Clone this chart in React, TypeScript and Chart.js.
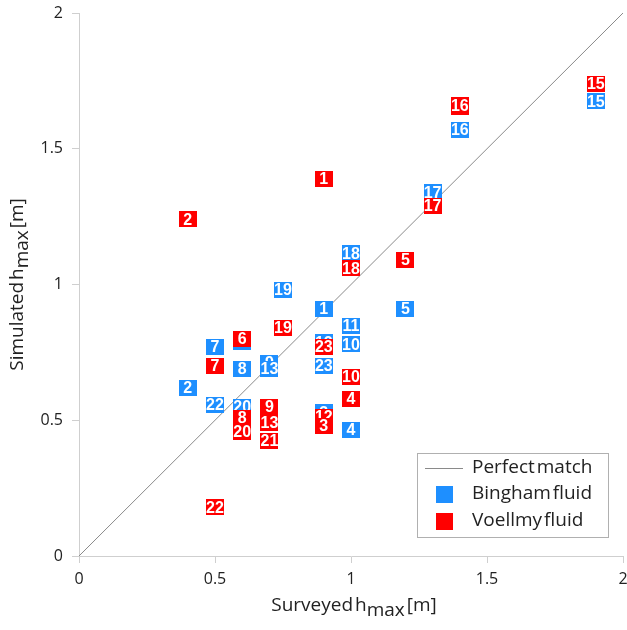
import React, { useEffect, useRef } from "react";
import { Chart, registerables } from "chart.js";

Chart.register(...registerables);

// Bingham fluid (blue) labels, surveyed and simulated hmax [m]
const binghamLabels = ["1", "2", "3", "4", "5", "6", "7", "8", "9", "10", "11", "12", "13", "15", "16", "17", "18", "19", "20", "22", "23"];
const binghamSurveyed = [0.9, 0.4, 0.9, 1.0, 1.2, 0.6, 0.5, 0.6, 0.7, 1.0, 1.0, 0.9, 0.7, 1.9, 1.4, 1.3, 1.0, 0.75, 0.6, 0.5, 0.9];
const binghamSimulated = [0.91, 0.62, 0.53, 0.465, 0.91, 0.79, 0.77, 0.69, 0.712, 0.78, 0.847, 0.787, 0.69, 1.675, 1.57, 1.34, 1.115, 0.98, 0.55, 0.556, 0.70];

// Voellmy fluid (red) labels (draw order: later ones on top)
const voellmyLabels = ["1", "2", "12", "3", "4", "5", "6", "7", "8", "9", "10", "13", "14", "15", "16", "17", "18", "19", "20", "21", "22", "23"];
const voellmySurveyed = [0.9, 0.4, 0.9, 0.9, 1.0, 1.2, 0.6, 0.5, 0.6, 0.7, 1.0, 0.7, 1.4, 1.9, 1.4, 1.3, 1.0, 0.75, 0.6, 0.7, 0.5, 0.9];
const voellmySimulated = [1.39, 1.24, 0.512, 0.48, 0.58, 1.09, 0.80, 0.70, 0.51, 0.55, 0.66, 0.49, 1.652, 1.74, 1.66, 1.29, 1.06, 0.84, 0.457, 0.425, 0.18, 0.77];

const perfectMatch = [0, 2];
const axisTicks = [0, 0.5, 1, 1.5, 2];

const BLUE = "#1e8fff";
const RED = "#ff0000";
const LINE_GRAY = "#8a8a8a";
const AXIS_GRAY = "#cfcfcf";
const FONT = "'Open Sans', 'Noto Sans', sans-serif";

const labelPlugin = {
  id: "labelBoxes",
  afterDatasetsDraw(chart: any) {
    const ctx = chart.ctx;
    const ca = chart.chartArea;
    ctx.save();
    ctx.beginPath();
    ctx.rect(ca.left, ca.top, ca.right - ca.left, ca.bottom - ca.top);
    ctx.clip();
    [1, 2].forEach((di) => {
      const meta = chart.getDatasetMeta(di);
      const ds = chart.data.datasets[di];
      meta.data.forEach((el: any, i: number) => {
        const w = 18, h = 16;
        ctx.fillStyle = ds.backgroundColor;
        ctx.fillRect(Math.round(el.x - w / 2), Math.round(el.y - h / 2), w, h);
        ctx.fillStyle = "#ffffff";
        ctx.font = "bold 16px 'Liberation Sans', Arial, sans-serif";
        ctx.textAlign = "center";
        ctx.textBaseline = "middle";
        ctx.fillText(ds.labels[i], el.x, el.y + 1, 18);
      });
    });
    ctx.restore();
  },
};

function drawSubTitle(ctx: any, parts: [string, number][], cx: number, cy: number) {
  ctx.font = `19px ${FONT}`;
  let total = 0;
  const widths = parts.map(([t]) => ctx.measureText(t).width);
  widths.forEach((w) => (total += w));
  let x = cx - total / 2;
  parts.forEach(([t, dy], i) => {
    ctx.fillText(t, x, cy + dy);
    x += widths[i];
  });
}

const titlesLegendPlugin = {
  id: "titlesLegend",
  afterDraw(chart: any) {
    const ctx = chart.ctx;
    const ca = chart.chartArea;
    ctx.save();
    ctx.fillStyle = "#222";
    ctx.textAlign = "left";
    ctx.textBaseline = "middle";
    try { (ctx as any).wordSpacing = "-3px"; } catch (e) {}
    // x title
    drawSubTitle(ctx, [["Surveyed h", 0], ["max", 5], [" [m]", 0]], (ca.left + ca.right) / 2 + 3, 606);
    // y title
    ctx.save();
    ctx.translate(18, (ca.top + ca.bottom) / 2);
    ctx.rotate(-Math.PI / 2);
    drawSubTitle(ctx, [["Simulated h", 0], ["max", 5], [" [m]", 0]], 0, 0);
    ctx.restore();

    // legend box
    const lx = 417, ly = 453, lw = 191, lh = 84;
    ctx.fillStyle = "#ffffff";
    ctx.fillRect(lx, ly, lw, lh);
    ctx.strokeStyle = "#b0b0b0";
    ctx.lineWidth = 1;
    ctx.strokeRect(lx + 0.5, ly + 0.5, lw, lh);
    const items = chart.data.datasets;
    const rows = [468, 494, 521];
    ctx.font = `19px ${FONT}`;
    items.forEach((ds: any, i: number) => {
      const y = rows[i];
      if (i === 0) {
        ctx.strokeStyle = ds.borderColor;
        ctx.beginPath();
        ctx.moveTo(425, y + 0.5);
        ctx.lineTo(463, y + 0.5);
        ctx.stroke();
      } else {
        ctx.fillStyle = ds.backgroundColor;
        ctx.fillRect(436, y - 8, 17, 17);
      }
      ctx.fillStyle = "#222";
      ctx.textAlign = "left";
      ctx.textBaseline = "middle";
      ctx.fillText(ds.label, 472, y);
    });
    ctx.restore();
  },
};

export default function App() {
  const ref = useRef<HTMLCanvasElement | null>(null);
  useEffect(() => {
    if (!ref.current) return;
    const fmt = (v: any) => String(Number(v));
    const chart = new Chart(ref.current, {
      type: "scatter",
      data: {
        datasets: [
          {
            type: "line",
            label: "Perfect match",
            data: perfectMatch.map((v) => ({ x: v, y: v })),
            borderColor: LINE_GRAY,
            borderWidth: 1,
            pointRadius: 0,
            fill: false,
          } as any,
          {
            label: "Bingham fluid",
            labels: binghamLabels,
            data: binghamSurveyed.map((x, i) => ({ x, y: binghamSimulated[i] })),
            backgroundColor: BLUE,
            pointRadius: 0,
          } as any,
          {
            label: "Voellmy fluid",
            labels: voellmyLabels,
            data: voellmySurveyed.map((x, i) => ({ x, y: voellmySimulated[i] })),
            backgroundColor: RED,
            pointRadius: 0,
          } as any,
        ],
      },
      options: {
        animation: false,
        responsive: false,
        layout: { padding: { left: 0, top: 13, right: 4, bottom: 0 } },
        plugins: { legend: { display: false }, tooltip: { enabled: false } },
        scales: {
          x: {
            type: "linear",
            min: 0,
            max: 2,
            afterBuildTicks: (s: any) => {
              s.ticks = axisTicks.map((v) => ({ value: v }));
            },
            afterFit: (s: any) => {
              s.height = 74;
              s.paddingLeft = 0;
              s.paddingRight = 0;
            },
            ticks: { font: { family: FONT, size: 16 }, color: "#222", padding: 7, callback: fmt },
            grid: { drawOnChartArea: false, tickLength: 7, tickColor: AXIS_GRAY },
            border: { color: AXIS_GRAY },
          },
          y: {
            type: "linear",
            min: 0,
            max: 2,
            afterBuildTicks: (s: any) => {
              s.ticks = axisTicks.map((v) => ({ value: v }));
            },
            afterFit: (s: any) => {
              s.width = 79;
              s.paddingTop = 0;
              s.paddingBottom = 0;
            },
            ticks: { font: { family: FONT, size: 16 }, color: "#222", padding: 9, callback: fmt },
            grid: { drawOnChartArea: false, tickLength: 7, tickColor: AXIS_GRAY },
            border: { color: AXIS_GRAY },
          },
        },
      } as any,
      plugins: [labelPlugin, titlesLegendPlugin],
    });
    return () => chart.destroy();
  }, []);
  return (
    <div style={{ position: "absolute", left: 0, top: 0, width: 627, height: 630, background: "#fff" }}>
      <canvas ref={ref} width={627} height={630} style={{ display: "block" }} />
    </div>
  );
}
